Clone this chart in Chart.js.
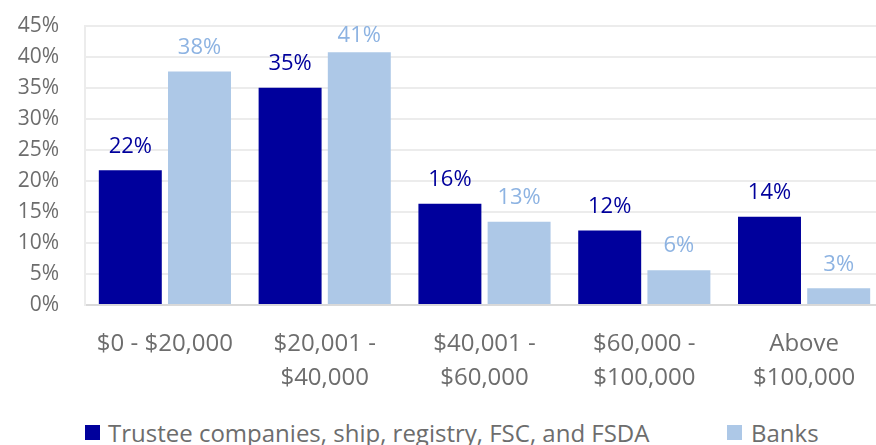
<!DOCTYPE html>
<html lang="en">
<head>
  <meta charset="UTF-8">
  <title>Income distribution</title>
  <script src="https://cdn.jsdelivr.net/npm/chart.js"></script>
  <style>
    body {
      margin: 0;
      background: #fff;
      overflow: hidden;
      font-family: 'Open Sans', sans-serif;
    }

    .wrap {
      position: absolute;
      left: 0;
      top: -13px;
      width: 884px;
      height: 414px;
    }

    .legend-item {
      position: absolute;
      top: 415px;
      height: 34px;
      display: flex;
      align-items: center;
      font-size: 24px;
      color: #6d6d6d;
      white-space: nowrap;
    }

    .swatch {
      width: 15px;
      height: 15px;
      margin-right: 8px;
    }
  </style>
</head>
<body>

  <div class="wrap"><canvas id="incomeChart"></canvas></div>

  <div class="legend-item" style="left: 85px;">
    <span class="swatch" style="background: #00009c;"></span>Trustee companies, ship, registry, FSC, and FSDA
  </div>
  <div class="legend-item" style="left: 727px;">
    <span class="swatch" style="background: #adc8e7; margin-right: 9px;"></span>Banks
  </div>

  <script>
    const categories = [
      ['$0 - $20,000'],
      ['$20,001 -', '$40,000'],
      ['$40,001 -', '$60,000'],
      ['$60,000 -', '$100,000'],
      ['Above', '$100,000']
    ];
    const trusteeValues = [21.7, 35.0, 16.3, 12.0, 14.2];
    const bankValues = [37.6, 40.7, 13.4, 5.6, 2.7];
    const yMin = 0;
    const yMax = 45;
    const yStep = 5;

    const darkBlue = '#00009c';
    const lightBlue = '#adc8e7';
    const tickGrey = '#6d6d6d';

    // value labels above each bar, kept inside the plot area
    const barLabels = {
      id: 'barLabels',
      afterDatasetsDraw(chart) {
        const ctx = chart.ctx;
        const top = chart.chartArea.top;
        ctx.save();
        ctx.font = '22px "Open Sans"';
        ctx.textAlign = 'center';
        ctx.textBaseline = 'bottom';
        chart.data.datasets.forEach((ds, i) => {
          const meta = chart.getDatasetMeta(i);
          ctx.fillStyle = ds.labelColor;
          meta.data.forEach((bar, j) => {
            const y = Math.max(bar.y - 13, top + 21);
            ctx.fillText(Math.round(ds.data[j]) + '%', bar.x, y);
          });
        });
        ctx.restore();
      }
    };

    const chart = new Chart(document.getElementById('incomeChart'), {
      type: 'bar',
      data: {
        labels: categories,
        datasets: [
          {
            label: 'Trustee companies, ship, registry, FSC, and FSDA',
            data: trusteeValues,
            backgroundColor: darkBlue,
            labelColor: darkBlue
          },
          {
            label: 'Banks',
            data: bankValues,
            backgroundColor: lightBlue,
            labelColor: '#8db3e2'
          }
        ]
      },
      options: {
        responsive: true,
        maintainAspectRatio: false,
        animation: false,
        categoryPercentage: 0.866,
        barPercentage: 0.91,
        layout: { padding: { top: 10, left: 0, right: 0, bottom: 0 } },
        plugins: {
          legend: { display: false },
          tooltip: { enabled: false }
        },
        scales: {
          x: {
            grid: { display: false },
            border: { display: true, color: '#d9d9d9', width: 2 },
            ticks: {
              color: tickGrey,
              padding: 14,
              maxRotation: 0,
              autoSkip: false,
              font: { family: 'Open Sans', size: 24, lineHeight: 1.42 }
            },
            afterFit(scale) { scale.height = 96; }
          },
          y: {
            min: yMin,
            max: yMax,
            grid: { color: '#ececec', lineWidth: 2, drawTicks: false },
            border: { display: true, color: '#ececec', width: 2 },
            ticks: {
              stepSize: yStep,
              color: tickGrey,
              padding: 26,
              font: { family: 'Open Sans', size: 21 },
              callback: v => v + '%'
            },
            afterFit(scale) { scale.width = 85; }
          }
        }
      },
      plugins: [barLabels]
    });
  </script>

</body>
</html>
